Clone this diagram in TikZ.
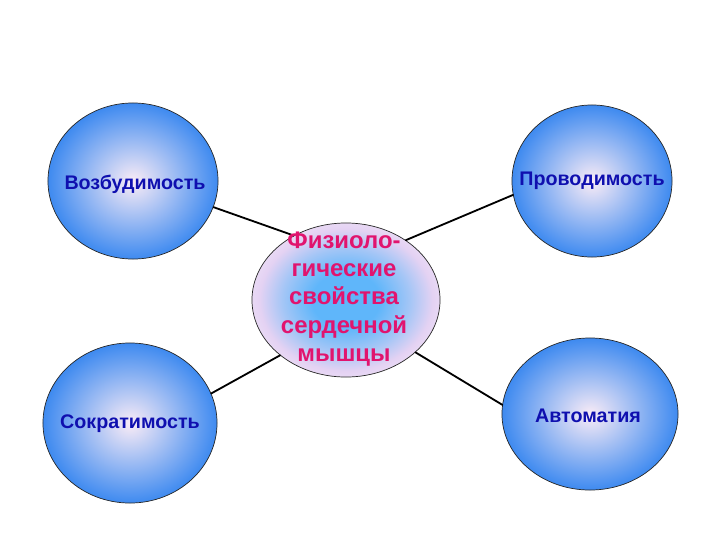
\documentclass[tikz,border=0pt]{standalone}
\usepackage{fontspec}
\setmainfont{Liberation Sans}
\usetikzlibrary{shapes.geometric}
\definecolor{ballblue}{RGB}{62,138,240}
\definecolor{ballcore}{RGB}{250,236,246}
\definecolor{labelblue}{RGB}{15,15,175}
\definecolor{labelpink}{RGB}{225,20,110}
\definecolor{hubcore}{RGB}{95,182,250}
\definecolor{hubmid}{RGB}{165,198,246}
\definecolor{hublav}{RGB}{228,210,243}
\definecolor{hubrim}{RGB}{248,240,250}
\pgfdeclareradialshading{hubshade}{\pgfpoint{0bp}{0bp}}{color(0bp)=(hubcore); color(9bp)=(hubcore); color(17bp)=(hubmid); color(23bp)=(hublav); color(32bp)=(hubrim); color(50bp)=(hubrim)}

\begin{document}
\begin{tikzpicture}[line cap=round,line join=round,x=0.025cm,y=-0.025cm,
	ball/.style={ellipse,draw=black!85,line width=0.5pt,inner sep=0pt,shading=radial,inner color=ballcore,outer color=ballblue},
	hub/.style={ellipse,draw=black!85,line width=0.5pt,inner sep=0pt,shading=hubshade},
	prop/.style={font=\bfseries\fontsize{14}{16}\selectfont,text=labelblue},
	link/.style={line width=1.3pt}]
	\useasboundingbox (0,0) rectangle (720,540);
	% circles
	\node [ball,minimum width=4.25cm,minimum height=3.9cm] (excit) at (133,181) {};
	\node [ball,minimum width=4.0cm,minimum height=3.8cm] (conduct) at (592,181) {};
	\node [ball,minimum width=4.35cm,minimum height=4.0cm] (contract) at (130,423) {};
	\node [ball,minimum width=4.4cm,minimum height=3.8cm] (auto) at (590,414) {};
	\node [hub,minimum width=4.7cm,minimum height=3.85cm] (heart) at (346,300) {};
	% links
	\draw [link] (excit.-18) -- (heart.129);
	\draw [link] (conduct.190) -- (heart.45);
	\draw [link] (contract.20) -- (heart.220);
	\draw [link] (auto.174) -- (heart.-37);
	% labels
	\node [prop] (excittext) at (135,184) {Возбудимость};
	\node [prop] (conducttext) at (592,181) {Проводимость};
	\node [prop] (contracttext) at (130,424) {Сократимость};
	\node [prop] (autotext) at (588,416) {Автоматия};
	\node [font=\bfseries\fontsize{17}{20}\selectfont,text=labelpink,align=center] (hubtext) at (344,299)
		{Физиоло-\\гические\\свойства\\сердечной\\мышцы};
\end{tikzpicture}
\end{document}
